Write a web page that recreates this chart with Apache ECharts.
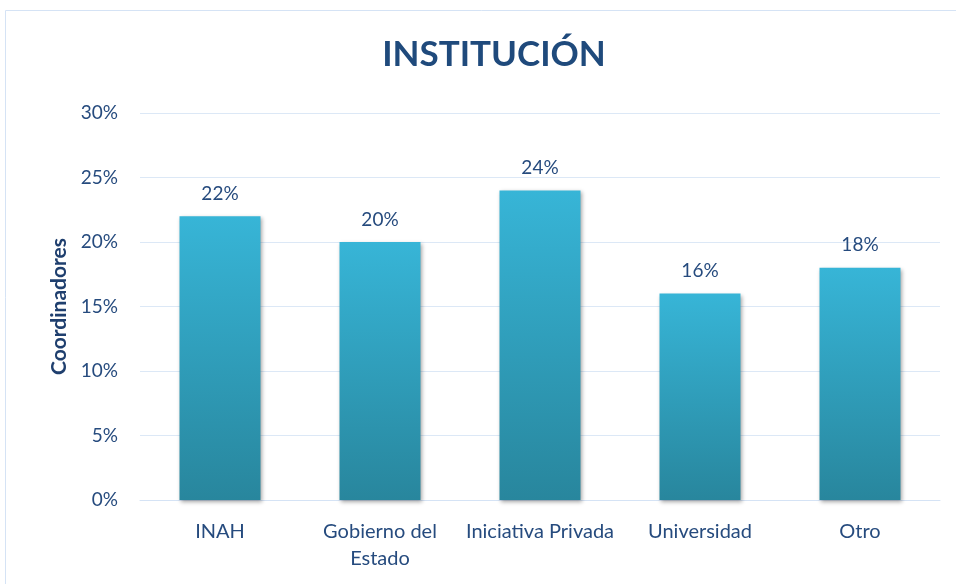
<!DOCTYPE html>
<html><head><meta charset="utf-8">
<script src="https://cdn.jsdelivr.net/npm/echarts@6/dist/echarts.min.js"></script>
<style>html,body{margin:0;padding:0;background:#fff}#c{width:956px;height:584px}</style>
</head><body><div id="c"></div>
<script>
const categories = ['INAH', 'Gobierno del\nEstado', 'Iniciativa Privada', 'Universidad', 'Otro'];
const values = [22, 20, 24, 16, 18];
const yTicks = [0, 5, 10, 15, 20, 25, 30];
const titleText = 'INSTITUCIÓN';
const yAxisName = 'Coordinadores';

const font = 'Lato, "Open Sans", sans-serif';
const textColor = '#264B7E';
const chart = echarts.init(document.getElementById('c'), null, {renderer: 'canvas'});
chart.setOption({
  animation: false,
  title: {
    text: titleText, left: 489, top: 32, textAlign: 'center',
    textStyle: {fontFamily: font, fontWeight: 'bold', fontSize: 35, color: '#1F4A7C'}
  },
  graphic: [{
    type: 'rect', shape: {x: 5.5, y: 10.5, width: 1200, height: 1200},
    style: {fill: 'none', stroke: '#D5E3F5', lineWidth: 1}, silent: true
  }],
  grid: {left: 140, right: 16, top: 113, bottom: 84},
  xAxis: {
    type: 'category', data: categories,
    axisLine: {lineStyle: {color: '#D5E3F5', width: 1}},
    axisTick: {show: false},
    axisLabel: {fontFamily: font, fontSize: 20, color: textColor, margin: 18, lineHeight: 27, interval: 0}
  },
  yAxis: {
    type: 'value', min: yTicks[0], max: yTicks[yTicks.length - 1], interval: 5,
    name: yAxisName, nameLocation: 'middle', nameGap: 64,
    nameTextStyle: {fontFamily: font, fontWeight: 'bold', fontSize: 21, color: '#1F3F6E'},
    axisLine: {show: false}, axisTick: {show: false},
    splitLine: {lineStyle: {color: '#DCE8F6', width: 1}},
    axisLabel: {fontFamily: font, fontSize: 19, color: textColor, margin: 22, formatter: v => v + '%'}
  },
  series: [{
    type: 'bar', data: values, barWidth: 81,
    itemStyle: {
      color: new echarts.graphic.LinearGradient(0, 0, 0, 1, [
        {offset: 0, color: '#37B5D7'}, {offset: 1, color: '#28869D'}
      ]),
      shadowColor: 'rgba(0,0,0,0.35)', shadowBlur: 4, shadowOffsetX: 1, shadowOffsetY: 2
    },
    label: {show: true, position: 'top', distance: 13, fontFamily: font, fontSize: 19, color: textColor,
      formatter: p => p.value + '%'}
  }]
});
</script></body></html>
